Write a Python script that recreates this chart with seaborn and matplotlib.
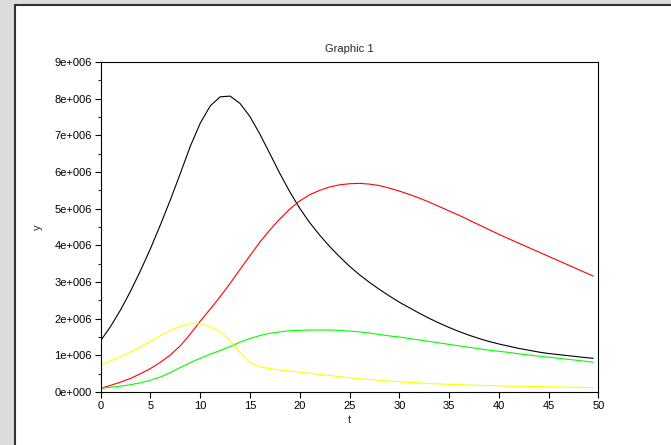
import matplotlib
matplotlib.use("Agg")
import matplotlib.pyplot as plt
import matplotlib.ticker as mticker
from matplotlib.patches import Rectangle
import seaborn as sns
import pandas as pd

# time grid
t = [0, 1, 2, 3, 4, 5, 6, 7, 8, 9, 10, 11, 12, 13, 14, 15, 16, 17, 18, 19,
     20, 21, 22, 23, 24, 25, 26, 27, 28, 29, 30, 31, 32, 33, 34, 35, 36, 37, 38, 39,
     40, 41, 42, 43, 44, 45, 46, 47, 48, 49, 49.5]

# series values, in millions
black = [1.40, 1.79, 2.24, 2.75, 3.31, 3.91, 4.56, 5.24, 5.96, 6.70,
         7.33, 7.80, 8.05, 8.07, 7.87, 7.51, 7.03, 6.50, 5.96, 5.46,
         5.01, 4.62, 4.28, 3.97, 3.69, 3.43, 3.20, 2.99, 2.80, 2.62,
         2.45, 2.30, 2.15, 2.01, 1.88, 1.76, 1.65, 1.55, 1.46, 1.38,
         1.31, 1.25, 1.19, 1.14, 1.09, 1.05, 1.02, 0.99, 0.96, 0.93, 0.92]
red = [0.10, 0.18, 0.27, 0.37, 0.50, 0.64, 0.81, 1.01, 1.26, 1.58,
       1.93, 2.26, 2.60, 2.96, 3.34, 3.72, 4.09, 4.42, 4.72, 4.99,
       5.21, 5.38, 5.50, 5.59, 5.65, 5.68, 5.69, 5.67, 5.63, 5.56,
       5.48, 5.39, 5.29, 5.18, 5.06, 4.94, 4.82, 4.69, 4.56, 4.43,
       4.30, 4.18, 4.06, 3.94, 3.82, 3.70, 3.58, 3.46, 3.34, 3.22, 3.16]
green = [0.10, 0.13, 0.16, 0.20, 0.25, 0.32, 0.41, 0.53, 0.67, 0.80,
         0.92, 1.03, 1.13, 1.24, 1.36, 1.46, 1.54, 1.60, 1.64, 1.67,
         1.68, 1.69, 1.69, 1.69, 1.68, 1.66, 1.64, 1.61, 1.57, 1.53,
         1.50, 1.46, 1.42, 1.38, 1.34, 1.30, 1.26, 1.22, 1.18, 1.14,
         1.11, 1.08, 1.04, 1.01, 0.98, 0.95, 0.92, 0.89, 0.86, 0.83, 0.81]
yellow = [0.74, 0.85, 0.97, 1.09, 1.23, 1.38, 1.54, 1.68, 1.79, 1.86,
          1.86, 1.78, 1.65, 1.40, 1.07, 0.80, 0.69, 0.64, 0.60, 0.57,
          0.54, 0.51, 0.48, 0.45, 0.42, 0.39, 0.36, 0.34, 0.32, 0.30,
          0.28, 0.26, 0.25, 0.23, 0.22, 0.21, 0.20, 0.19, 0.18, 0.18,
          0.17, 0.16, 0.16, 0.15, 0.15, 0.14, 0.14, 0.13, 0.13, 0.12, 0.12]

series = {"black": black, "red": red, "green": green, "yellow": yellow}
colors = {"black": "#000000", "red": "#ff0000", "green": "#00ff00", "yellow": "#ffff00"}

rows = []
for name, vals in series.items():
    for ti, v in zip(t, vals):
        rows.append({"t": ti, "y": v * 1e6, "s": name})
df = pd.DataFrame(rows)

sns.set_style("ticks")
plt.rcParams['font.family'] = ['Liberation Sans', 'DejaVu Sans']

fig = plt.figure(figsize=(6.71, 4.45), dpi=100, facecolor="#dcdcdc")
# white canvas with a dark border on top/left
fig.patches.append(Rectangle((15 / 671, -0.01), 1.0, (445 - 5) / 445 + 0.01,
                             transform=fig.transFigure, facecolor="white",
                             edgecolor="#333333", linewidth=1.5, zorder=-10))

ax = fig.add_axes([100.7 / 671, (445 - 392) / 445, 497.6 / 671, 330 / 445])
ax.set_zorder(5)
ax.set_facecolor("white")

sns.lineplot(data=df, x="t", y="y", hue="s", palette=colors, linewidth=0.8,
             legend=False, ax=ax, sort=False)

ax.set_xlim(0, 50)
ax.set_ylim(0, 9e6)
ax.set_xticks(range(0, 51, 5))
ax.set_yticks([i * 1e6 for i in range(10)])
ax.yaxis.set_minor_locator(mticker.MultipleLocator(5e5))


def sci(v, pos):
    n = int(round(v / 1e6))
    return "0e+000" if n == 0 else f"{n}e+006"


ax.yaxis.set_major_formatter(mticker.FuncFormatter(sci))
ax.tick_params(axis="both", which="major", direction="out", length=4.5, width=0.8,
               labelsize=8, pad=2, colors="black")
ax.tick_params(axis="y", which="minor", direction="out", length=2.5, width=0.8)
for sp in ax.spines.values():
    sp.set_visible(True)
    sp.set_linewidth(0.8)
    sp.set_color("black")

ax.set_title("Graphic 1", fontsize=8, pad=7)
ax.set_xlabel("t", fontsize=8, labelpad=3)
ax.set_ylabel("y", fontsize=8, labelpad=8)

fig.savefig("out.png", dpi=100, facecolor=fig.get_facecolor())
